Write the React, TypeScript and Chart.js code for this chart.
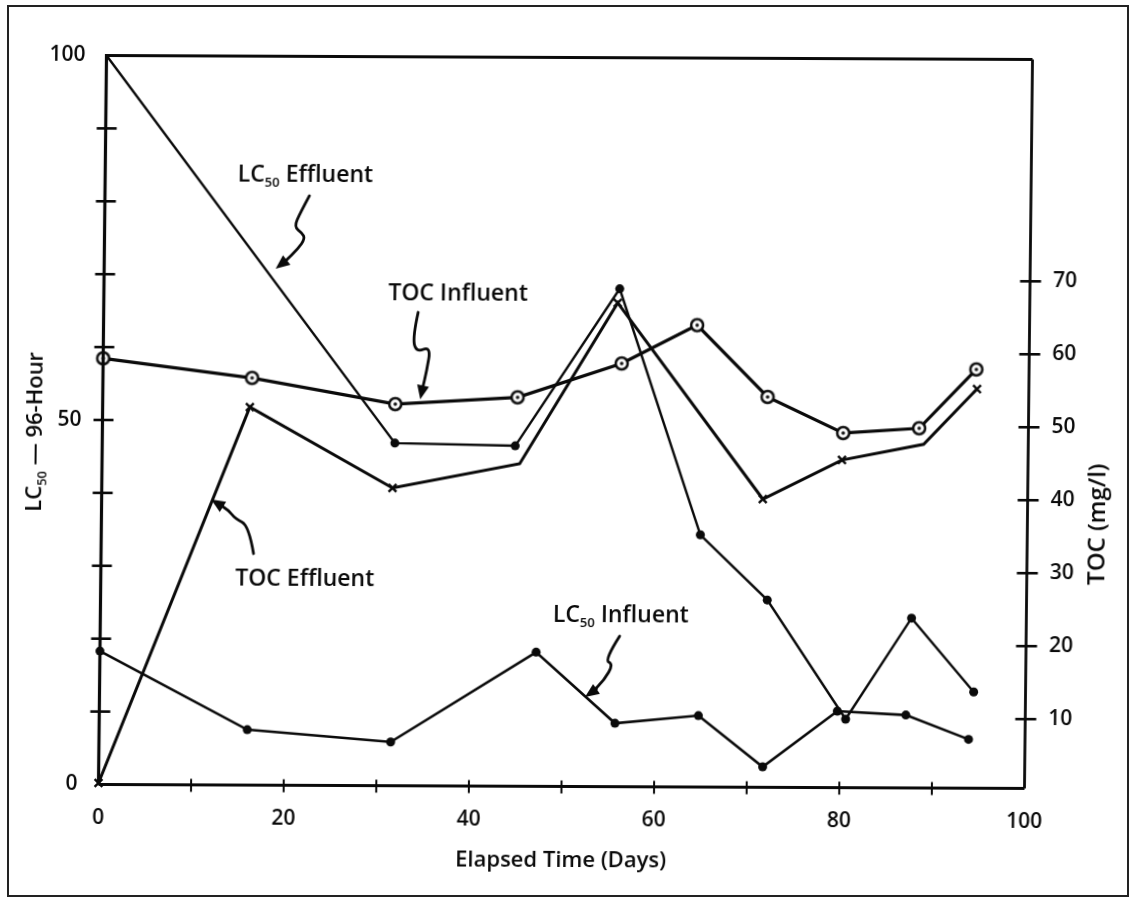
import React, { useEffect, useRef } from "react";
import { Chart, registerables } from "chart.js";

Chart.register(...registerables);

// ---------- data ----------
const lc50EffluentDays = [0, 31.6, 44.6, 55.7, 64.7, 72.0, 80.6, 87.6, 94.4];
const lc50EffluentValues = [100, 47.0, 46.7, 68.3, 34.6, 25.7, 9.4, 23.3, 13.2];

const lc50InfluentDays = [0, 16.0, 31.5, 47.1, 55.7, 64.7, 71.7, 79.7, 87.1, 93.9];
const lc50InfluentValues = [18.3, 7.6, 6.0, 18.4, 8.7, 9.8, 2.8, 10.5, 10.0, 6.7];

const tocInfluentDays = [0, 16.1, 31.6, 44.8, 56.0, 64.1, 71.8, 80.0, 88.2, 94.3];
const tocInfluentValues = [58.9, 56.3, 52.8, 53.8, 58.5, 63.8, 54.0, 49.1, 49.8, 57.9];

const tocEffluentDays = [0, 15.9, 31.4, 45.1, 55.5, 71.4, 79.9, 88.7, 94.4];
const tocEffluentValues = [0.7, 52.3, 41.3, 44.7, 66.8, 40.0, 45.4, 47.6, 55.2];
const tocEffluentMarked = [true, true, true, false, true, true, true, false, true];

const xTickLabels = [0, 20, 40, 60, 80, 100];
const xTickMarks = [10, 20, 30, 40, 50, 60, 70, 80, 90];
const lcTickLabels = [0, 50, 100];
const lcTickMarks = [10, 20, 30, 40, 50, 60, 70, 80, 90];
const tocTickLabels = [10, 20, 30, 40, 50, 60, 70];

const xTitle = "Elapsed Time (Days)";
const leftTitle = "LC_{50} — 96-Hour";
const rightTitle = "TOC (mg/l)";

// callout labels: text, anchor [day, LC50] and squiggle path [day, LC50] ending at arrow tip
const calloutTexts = ["LC_{50} Effluent", "TOC Influent", "TOC Effluent", "LC_{50} Influent"];
const calloutAnchors = [
  [14.31, 82.79],
  [30.72, 66.6],
  [14.52, 27.37],
  [48.87, 22.57],
];
const calloutPaths = [
  [[22.08, 80.87], [21.11, 78.53], [20.46, 76.61], [21.33, 75.79], [21.65, 74.97], [20.9, 73.59], [19.6, 71.95], [18.52, 70.85]],
  [[33.96, 64.95], [33.42, 61.66], [33.75, 59.47], [35.37, 60.29], [34.94, 56.86], [34.5, 54.39], [34.29, 53.02]],
  [[16.47, 31.76], [15.93, 35.6], [14.42, 36.56], [13.77, 37.65], [12.69, 38.48], [11.83, 39.16]],
  [[56.1, 20.64], [54.48, 17.35], [55.45, 16.8], [54.48, 14.61], [53.19, 12.96], [52.43, 12.28]],
];

const INK = "#0a0a0a";
const TEXT_FONT = "'Open Sans', 'DejaVu Sans', sans-serif";
const TEXT_WEIGHT = "600";
const TICK_FONT = "'Open Sans', 'DejaVu Sans', sans-serif";

function toPoints(xs: number[], ys: number[]) {
  return xs.map((x, i) => ({ x, y: ys[i] }));
}

function makeRingPoint() {
  const c = document.createElement("canvas");
  c.width = 18;
  c.height = 18;
  const g = c.getContext("2d")!;
  g.beginPath();
  g.arc(9, 9, 6, 0, Math.PI * 2);
  g.fillStyle = "#fff";
  g.fill();
  g.lineWidth = 2.5;
  g.strokeStyle = INK;
  g.stroke();
  g.beginPath();
  g.arc(9, 9, 1.8, 0, Math.PI * 2);
  g.fillStyle = INK;
  g.fill();
  return c;
}

function partFont(size: number, isSub: boolean) {
  const fs = isSub ? Math.round(size * 0.58) : size;
  return `${TEXT_WEIGHT} ${fs}px ${TEXT_FONT}`;
}

// draws text with _{..} subscripts, starting at x (left) on baseline y
function drawRich(ctx: CanvasRenderingContext2D, text: string, x: number, y: number, size: number) {
  const parts = text.split(/_\{([^}]*)\}/);
  let cx = x;
  parts.forEach((p, i) => {
    if (!p) return;
    const isSub = i % 2 === 1;
    ctx.font = partFont(size, isSub);
    ctx.fillText(p, cx, isSub ? y + size * 0.22 : y);
    cx += ctx.measureText(p).width;
  });
  return cx - x;
}

function richWidth(ctx: CanvasRenderingContext2D, text: string, size: number) {
  const parts = text.split(/_\{([^}]*)\}/);
  let w = 0;
  parts.forEach((p, i) => {
    if (!p) return;
    ctx.font = partFont(size, i % 2 === 1);
    w += ctx.measureText(p).width;
  });
  return w;
}

const decorPlugin = {
  id: "decor",
  afterDraw(chart: any) {
    const ctx: CanvasRenderingContext2D = chart.ctx;
    const { left, right, top, bottom } = chart.chartArea;
    const xs = chart.scales.x;
    const ys = chart.scales.y;
    const y1 = chart.scales.y1;
    ctx.save();
    ctx.strokeStyle = INK;
    ctx.fillStyle = INK;
    ctx.lineCap = "butt";

    // plot frame
    ctx.lineWidth = 3.2;
    ctx.beginPath();
    ctx.moveTo(left, bottom);
    ctx.lineTo(left, top);
    ctx.lineTo(right, top);
    ctx.stroke();
    ctx.beginPath();
    ctx.moveTo(left, bottom);
    ctx.lineTo(right, bottom);
    ctx.stroke();
    ctx.lineWidth = 2.8;
    ctx.beginPath();
    ctx.moveTo(right, top);
    ctx.lineTo(right, bottom);
    ctx.stroke();

    // tick marks
    ctx.lineWidth = 2.6;
    lcTickMarks.forEach((v) => {
      const py = ys.getPixelForValue(v);
      ctx.beginPath();
      ctx.moveTo(left - 9, py);
      ctx.lineTo(left + 11, py);
      ctx.stroke();
    });
    tocTickLabels.forEach((v) => {
      const py = y1.getPixelForValue(v);
      ctx.beginPath();
      ctx.moveTo(right - 10, py);
      ctx.lineTo(right + 11, py);
      ctx.stroke();
    });
    ctx.lineWidth = 2;
    xTickMarks.forEach((d) => {
      const px = xs.getPixelForValue(d);
      ctx.beginPath();
      ctx.moveTo(px, bottom - 6);
      ctx.lineTo(px, bottom + 7);
      ctx.stroke();
    });

    // titles
    ctx.textBaseline = "alphabetic";
    ctx.textAlign = "left";
    const xtSize = 22;
    const xtW = richWidth(ctx, xTitle, xtSize);
    drawRich(ctx, xTitle, (left + right) / 2 - xtW / 2, bottom + 80, xtSize);

    const ltSize = 22;
    ctx.save();
    ctx.translate(42, 514);
    ctx.rotate(-Math.PI / 2);
    drawRich(ctx, leftTitle, 0, 0, ltSize);
    ctx.restore();

    const rtSize = 24;
    const rtW = richWidth(ctx, rightTitle, rtSize);
    ctx.save();
    ctx.translate(right + 77, 522 + rtW / 2);
    ctx.rotate(-Math.PI / 2);
    drawRich(ctx, rightTitle, 0, 0, rtSize);
    ctx.restore();

    // callouts
    calloutTexts.forEach((t, i) => {
      const [ad, av] = calloutAnchors[i];
      drawRich(ctx, t, xs.getPixelForValue(ad), ys.getPixelForValue(av), 23);
      const pts = calloutPaths[i].map(([d, v]) => [xs.getPixelForValue(d), ys.getPixelForValue(v)]);
      const n = pts.length;
      const [tx, ty] = pts[n - 1];
      const [px, py] = pts[n - 2];
      const ang = Math.atan2(ty - py, tx - px);
      const headLen = 14;
      const headHalf = 6;
      const bx = tx - Math.cos(ang) * headLen;
      const by = ty - Math.sin(ang) * headLen;
      // squiggle
      ctx.lineWidth = 2.8;
      ctx.lineJoin = "round";
      ctx.lineCap = "round";
      ctx.beginPath();
      ctx.moveTo(pts[0][0], pts[0][1]);
      for (let k = 1; k < n - 1; k++) {
        const [cx, cy] = pts[k];
        const nx = k + 1 < n - 1 ? (pts[k][0] + pts[k + 1][0]) / 2 : bx;
        const ny = k + 1 < n - 1 ? (pts[k][1] + pts[k + 1][1]) / 2 : by;
        ctx.quadraticCurveTo(cx, cy, nx, ny);
      }
      ctx.stroke();
      // arrow head
      ctx.beginPath();
      ctx.moveTo(tx, ty);
      ctx.lineTo(bx + Math.sin(ang) * headHalf, by - Math.cos(ang) * headHalf);
      ctx.lineTo(bx - Math.sin(ang) * headHalf, by + Math.cos(ang) * headHalf);
      ctx.closePath();
      ctx.fill();
    });

    ctx.restore();
  },
};

export default function App() {
  const canvasRef = useRef<HTMLCanvasElement | null>(null);

  useEffect(() => {
    if (!canvasRef.current) return;
    const ring = makeRingPoint();
    const tickFont = { family: TICK_FONT, size: 21, weight: "600" };
    const chart = new Chart(canvasRef.current, {
      type: "line",
      data: {
        datasets: [
          {
            label: "LC50 Effluent",
            data: toPoints(lc50EffluentDays, lc50EffluentValues),
            yAxisID: "y",
            borderColor: INK,
            backgroundColor: INK,
            borderWidth: 2.4,
            pointRadius: (c: any) => (c.dataIndex === 0 ? 0 : 4.5),
            pointBorderWidth: 0,
            clip: false,
          },
          {
            label: "LC50 Influent",
            data: toPoints(lc50InfluentDays, lc50InfluentValues),
            yAxisID: "y",
            borderColor: INK,
            backgroundColor: INK,
            borderWidth: 2.6,
            pointRadius: 4.5,
            pointBorderWidth: 0,
            clip: false,
          },
          {
            label: "TOC Influent",
            data: toPoints(tocInfluentDays, tocInfluentValues),
            yAxisID: "y1",
            borderColor: INK,
            backgroundColor: "#fff",
            borderWidth: 3.2,
            pointStyle: ring as any,
            pointRadius: 6,
            clip: false,
          },
          {
            label: "TOC Effluent",
            data: toPoints(tocEffluentDays, tocEffluentValues),
            yAxisID: "y1",
            borderColor: INK,
            backgroundColor: INK,
            borderWidth: 3,
            pointStyle: "crossRot",
            pointRadius: (c: any) => (tocEffluentMarked[c.dataIndex] ? 5.5 : 0),
            pointBorderWidth: 2.4,
            clip: false,
          },
        ],
      },
      options: {
        animation: false,
        responsive: true,
        maintainAspectRatio: false,
        devicePixelRatio: 1,
        layout: { padding: { top: 57.5, left: 0, right: 0, bottom: 0 } },
        plugins: { legend: { display: false }, tooltip: { enabled: false } },
        elements: { line: { tension: 0 } },
        scales: {
          x: {
            type: "linear",
            min: 0,
            max: 100,
            grid: { display: false },
            border: { display: false },
            ticks: { font: tickFont, color: INK, padding: 13, maxRotation: 0 },
            afterBuildTicks: (s: any) => {
              s.ticks = xTickLabels.map((v) => ({ value: v }));
            },
            afterFit: (s: any) => {
              s.height = 116.5;
            },
          },
          y: {
            type: "linear",
            position: "left",
            min: 0,
            max: 100,
            grid: { display: false },
            border: { display: false },
            ticks: { font: tickFont, color: INK, padding: 13 },
            afterBuildTicks: (s: any) => {
              s.ticks = lcTickLabels.map((v) => ({ value: v }));
            },
            afterFit: (s: any) => {
              s.width = 102.5;
            },
          },
          y1: {
            type: "linear",
            position: "right",
            min: 0.5,
            max: 100.4,
            grid: { display: false },
            border: { display: false },
            ticks: { font: tickFont, color: INK, padding: 15 },
            afterBuildTicks: (s: any) => {
              s.ticks = tocTickLabels.map((v) => ({ value: v }));
            },
            afterFit: (s: any) => {
              s.width = 107.5;
            },
          },
        },
      } as any,
      plugins: [decorPlugin],
    });
    return () => chart.destroy();
  }, []);

  return (
    <div style={{ position: "absolute", left: 0, top: 0, width: 1136, height: 903, background: "#fff", overflow: "hidden" }}>
      <div
        style={{
          position: "absolute",
          left: 7,
          top: 5,
          width: 1122,
          height: 892,
          border: "2px solid #222",
          boxSizing: "border-box",
        }}
      />
      <div style={{ position: "absolute", left: 0, top: 0, width: 1136, height: 903 }}>
        <canvas
          ref={canvasRef}
          style={{ transform: "matrix(1, 0.0043, -0.011, 1, 0, 0)", transformOrigin: "565.5px 422px" }}
        />
      </div>
    </div>
  );
}
